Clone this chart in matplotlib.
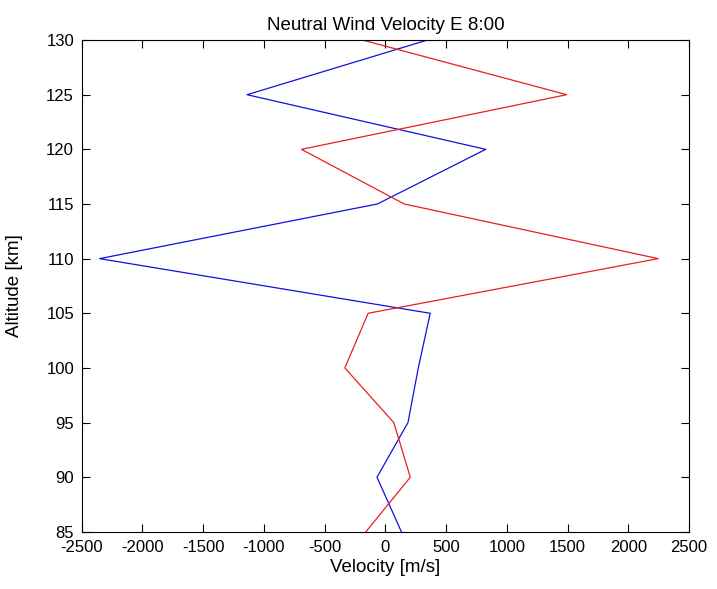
import matplotlib
matplotlib.use('Agg')
import matplotlib.pyplot as plt
import numpy as np

# altitudes in km
altitude = [85, 90, 95, 100, 105, 110, 115, 120, 125, 130]
# neutral wind velocity (m/s), two profiles
vel_blue = [132, -69, 186, 271, 369, -2353, -66, 826, -1139, 346]
vel_red = [-161, 205, 69, -334, -142, 2246, 155, -691, 1493, -188]

plt.rcParams['font.family'] = ['Liberation Sans', 'DejaVu Sans']
plt.rcParams['axes.unicode_minus'] = False

fig = plt.figure(figsize=(7.17, 5.89), dpi=100)
ax = fig.add_axes([0.114, 0.097, 0.847, 0.835])

ax.plot(vel_blue, altitude, color='#1010e0', linewidth=0.9)
ax.plot(vel_red, altitude, color='#e82020', linewidth=0.9)

ax.set_xlim(-2500, 2500)
ax.set_ylim(85, 130)
ax.set_xticks(np.arange(-2500, 2501, 500))
ax.set_yticks(np.arange(85, 131, 5))
ax.tick_params(direction='in', top=True, right=True, length=6, width=0.8,
               labelsize=12)
ax.tick_params(axis='x', pad=6)
ax.tick_params(axis='y', pad=5.5)
for s in ax.spines.values():
    s.set_linewidth(0.8)

ax.set_xlabel('Velocity [m/s]', fontsize=13.5, labelpad=3)
ax.set_ylabel('Altitude [km]', fontsize=13.5, labelpad=17)
ax.set_title('Neutral Wind Velocity E 8:00', fontsize=13.5, pad=7)

fig.savefig('out.png', dpi=100)
